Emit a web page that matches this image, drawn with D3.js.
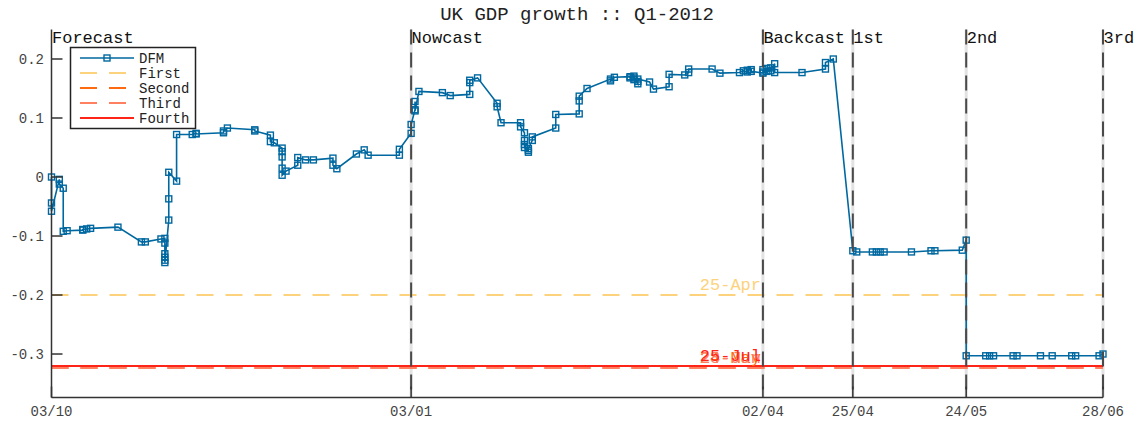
<!DOCTYPE html>
<html><head><meta charset="utf-8">
<script src="https://cdn.jsdelivr.net/npm/d3@7"></script>
<style>body{margin:0;background:#fff} svg{display:block}</style>
</head><body><svg id="c" width="1144" height="426"></svg>
<script>
const dfmDates = [
"2011-10-03","2011-10-03","2011-10-03","2011-10-05","2011-10-05","2011-10-06","2011-10-06","2011-10-07",
"2011-10-11","2011-10-11","2011-10-12","2011-10-13","2011-10-20","2011-10-26","2011-10-27","2011-10-31",
"2011-11-01","2011-11-01","2011-11-01","2011-11-01","2011-11-01","2011-11-01","2011-11-02","2011-11-02",
"2011-11-02","2011-11-04","2011-11-04","2011-11-08","2011-11-09","2011-11-09","2011-11-16","2011-11-16",
"2011-11-17","2011-11-24","2011-11-24","2011-11-28","2011-11-28","2011-11-29","2011-12-01","2011-12-01",
"2011-12-01","2011-12-01","2011-12-01","2011-12-02","2011-12-05","2011-12-05","2011-12-07","2011-12-09",
"2011-12-14","2011-12-14","2011-12-15","2011-12-20","2011-12-22","2011-12-23","2011-12-31","2011-12-31",
"2012-01-03","2012-01-03","2012-01-04","2012-01-04","2012-01-04","2012-01-05","2012-01-11","2012-01-13",
"2012-01-18","2012-01-18","2012-01-18","2012-01-20","2012-01-25","2012-01-25","2012-01-26","2012-01-31",
"2012-01-31","2012-02-01","2012-02-01","2012-02-01","2012-02-01","2012-02-02","2012-02-02","2012-02-02",
"2012-02-03","2012-02-03","2012-02-09","2012-02-09","2012-02-15","2012-02-15","2012-02-15","2012-02-17",
"2012-02-23","2012-02-23","2012-02-24","2012-02-28","2012-02-28","2012-02-29","2012-02-29","2012-02-29",
"2012-03-01","2012-03-01","2012-03-01","2012-03-04","2012-03-05","2012-03-09","2012-03-09","2012-03-13",
"2012-03-14","2012-03-14","2012-03-20","2012-03-22","2012-03-27","2012-03-28","2012-03-29","2012-03-29",
"2012-03-30","2012-03-30","2012-04-02","2012-04-02","2012-04-02","2012-04-03","2012-04-03","2012-04-04",
"2012-04-04","2012-04-05","2012-04-05","2012-04-12","2012-04-18","2012-04-18","2012-04-20","2012-04-25",
"2012-04-26","2012-04-30","2012-05-01","2012-05-02","2012-05-03","2012-05-10","2012-05-15","2012-05-16",
"2012-05-23","2012-05-24","2012-05-24","2012-05-29","2012-05-30","2012-05-31","2012-06-05","2012-06-06",
"2012-06-12","2012-06-15","2012-06-20","2012-06-21","2012-06-27","2012-06-28"];
const dfmValues = [
0.000,-0.044,-0.058,-0.004,-0.012,-0.019,-0.092,-0.091,
-0.090,-0.089,-0.088,-0.087,-0.085,-0.110,-0.110,-0.105,
-0.104,-0.112,-0.130,-0.136,-0.141,-0.145,-0.073,-0.037,
0.008,-0.007,0.072,0.072,0.074,0.073,0.075,0.078,
0.083,0.080,0.078,0.071,0.060,0.058,0.049,0.043,
0.034,0.015,0.003,0.010,0.020,0.033,0.029,0.029,
0.032,0.020,0.014,0.039,0.046,0.037,0.037,0.047,
0.074,0.089,0.114,0.128,0.112,0.145,0.143,0.138,
0.140,0.160,0.164,0.168,0.125,0.119,0.092,0.092,
0.085,0.075,0.062,0.055,0.050,0.045,0.042,0.048,
0.062,0.068,0.083,0.106,0.107,0.129,0.137,0.150,
0.166,0.163,0.169,0.170,0.168,0.171,0.165,0.168,
0.158,0.162,0.166,0.161,0.149,0.153,0.174,0.173,
0.177,0.183,0.183,0.176,0.177,0.180,0.178,0.181,
0.182,0.179,0.176,0.182,0.178,0.184,0.179,0.185,
0.180,0.192,0.177,0.177,0.183,0.194,0.200,-0.125,
-0.127,-0.127,-0.127,-0.127,-0.127,-0.127,-0.125,-0.125,
-0.124,-0.107,-0.303,-0.303,-0.303,-0.303,-0.303,-0.303,
-0.303,-0.303,-0.303,-0.303,-0.303,-0.300];

const releaseNames = ["First","Second","Third","Fourth"];
const releaseValues = [-0.200,-0.3237,-0.3237,-0.3205];
const releaseLabels = ["25-Apr","24-May","28-Jun","25-Jul"];
const releaseColors = ["#fdd27c","#ff6a10","#ff8060","#ff2418"];
const releaseDash = ["17,12","17,12","17,12",null];

const phaseDates = ["2011-10-03","2012-01-03","2012-04-02","2012-04-25","2012-05-24","2012-06-28"];
const phaseLabels = ["Forecast","Nowcast","Backcast","1st","2nd","3rd"];
const xTickLabels = ["03/10","03/01","02/04","25/04","24/05","28/06"];
const yTicks = [-0.3,-0.2,-0.1,0,0.1,0.2];
const yTickLabels = ["-0.3","-0.2","-0.1","0","0.1","0.2"];
const yDomain = [-0.3737, 0.25];

const parse = d3.utcParse("%Y-%m-%d");
const svg = d3.select("#c");
const font = "'Liberation Mono','Courier New',monospace";
const L = 51.5, R = 1103, T = 29.5, B = 397.5;
const x = d3.scaleUtc().domain([parse(phaseDates[0]), parse(phaseDates[phaseDates.length-1])]).range([L, R]);
const y = d3.scaleLinear().domain(yDomain).range([B, T]);
const blue = "#0068a0";

const data = dfmDates.map((d,i)=>({date:parse(d), v:dfmValues[i]}));

// light base of phase lines
svg.append("g").selectAll("line").data(phaseDates.slice(1)).join("line")
  .attr("x1",d=>x(parse(d))).attr("x2",d=>x(parse(d))).attr("y1",T).attr("y2",B)
  .attr("stroke","#e2e2e2").attr("stroke-width",3);

// release lines
releaseValues.forEach((v,i)=>{
  svg.append("line").attr("x1",L).attr("x2",R).attr("y1",y(v)).attr("y2",y(v))
    .attr("stroke",releaseColors[i]).attr("stroke-width",2)
    .attr("stroke-dasharray",releaseDash[i]);
});
// order so red solid drawn last except dashed orange visible
// DFM line
svg.append("path").datum(data)
  .attr("d", d3.line().x(d=>x(d.date)).y(d=>y(d.v)))
  .attr("fill","none").attr("stroke",blue).attr("stroke-width",1.6);
svg.append("g").selectAll("rect").data(data).join("rect")
  .attr("x",d=>x(d.date)-3).attr("y",d=>y(d.v)-3).attr("width",6).attr("height",6)
  .attr("fill","none").attr("stroke",blue).attr("stroke-width",1.4);

// phase dashed lines
svg.append("g").selectAll("line").data(phaseDates.slice(1)).join("line")
  .attr("x1",d=>x(parse(d))).attr("x2",d=>x(parse(d))).attr("y1",T).attr("y2",B)
  .attr("stroke","#4a4a4a").attr("stroke-width",2).attr("stroke-dasharray","15,8");

// release labels
releaseValues.forEach((v,i)=>{
  svg.append("text").attr("x",761).attr("y",y(v)-5).attr("text-anchor","end")
    .attr("font-family",font).attr("font-size",17).attr("fill",releaseColors[i])
    .text(releaseLabels[i]);
});

// phase labels
svg.append("g").selectAll("text").data(phaseDates).join("text")
  .attr("x",d=>x(parse(d))+0.5).attr("y",43)
  .attr("font-family",font).attr("font-size",17).attr("fill","#111")
  .text((d,i)=>phaseLabels[i]);

// axes
svg.append("line").attr("x1",L).attr("x2",L).attr("y1",T).attr("y2",B).attr("stroke","#333").attr("stroke-width",1.5);
svg.append("line").attr("x1",L).attr("x2",R).attr("y1",B).attr("y2",B).attr("stroke","#333").attr("stroke-width",1.5);
svg.append("g").selectAll("line").data(yTicks).join("line")
  .attr("x1",L).attr("x2",L+11).attr("y1",d=>y(d)).attr("y2",d=>y(d)).attr("stroke","#333").attr("stroke-width",1.5);
svg.append("g").selectAll("text").data(yTicks).join("text")
  .attr("x",44).attr("y",d=>y(d)).attr("dy","0.35em").attr("text-anchor","end")
  .attr("font-family",font).attr("font-size",14).attr("fill","#444")
  .text((d,i)=>yTickLabels[i]);
svg.append("g").selectAll("line").data(phaseDates).join("line")
  .attr("x1",d=>x(parse(d))).attr("x2",d=>x(parse(d))).attr("y1",B).attr("y2",B-11).attr("stroke","#333").attr("stroke-width",1.5);
svg.append("g").selectAll("text").data(phaseDates).join("text")
  .attr("x",d=>x(parse(d))).attr("y",416).attr("text-anchor","middle")
  .attr("font-family",font).attr("font-size",14).attr("fill","#444")
  .text((d,i)=>xTickLabels[i]);

// title
svg.append("text").attr("x",577).attr("y",20).attr("text-anchor","middle")
  .attr("font-family",font).attr("font-size",19).attr("fill","#222")
  .text("UK GDP growth :: Q1-2012");

// legend
const lg = svg.append("g");
lg.append("rect").attr("x",70.5).attr("y",47.5).attr("width",125).attr("height",81)
  .attr("fill","#fff").attr("stroke","#222").attr("stroke-width",1.5);
const legNames = ["DFM"].concat(releaseNames);
const legColors = [blue].concat(releaseColors);
const legDash = [null].concat(releaseDash);
legNames.forEach((n,i)=>{
  const yy = 58 + 15*i;
  lg.append("line").attr("x1",80).attr("x2",134).attr("y1",yy).attr("y2",yy)
    .attr("stroke",legColors[i]).attr("stroke-width",i===0?1.6:2).attr("stroke-dasharray",legDash[i]);
  if(i===0) lg.append("rect").attr("x",104).attr("y",yy-3).attr("width",6).attr("height",6)
    .attr("fill","none").attr("stroke",blue).attr("stroke-width",1.4);
  lg.append("text").attr("x",139).attr("y",yy).attr("dy","0.35em")
    .attr("font-family",font).attr("font-size",14).attr("fill","#222").text(n);
});
</script></body></html>
